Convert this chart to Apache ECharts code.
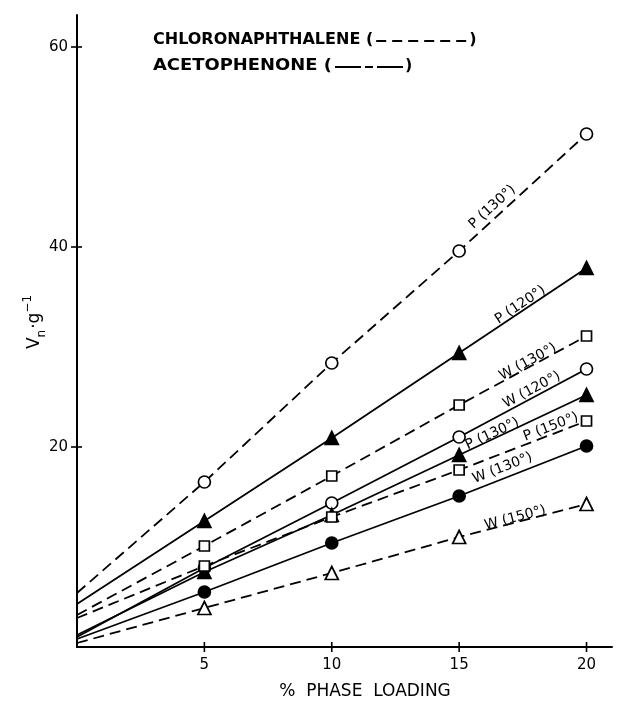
<!DOCTYPE html>
<html><head><meta charset="utf-8">
<script src="https://cdn.jsdelivr.net/npm/echarts@6/dist/echarts.min.js"></script>
<style>html,body{margin:0;padding:0;background:#fff}#c{width:618px;height:706px}</style>
</head><body><div id="c"></div>
<script>
// Data
const loading = [0, 5, 10, 15, 20];
const xTicks = [5, 10, 15, 20];
const yTicks = [20, 40, 60];

const p130Chloro = [5.4, 16.5, 28.4, 39.6, 51.3];
const p120Aceto  = [4.3, 12.6, 20.9, 29.4, 37.9];
const w130Chloro = [3.2, 10.1, 17.1, 24.2, 31.1];
const w120Aceto  = [1.0, 7.9, 14.4, 21.0, 27.8];
const p130Aceto  = [1.2, 7.5, 13.2, 19.2, 25.2];
const p150Chloro = [2.9, 8.1, 13.0, 17.7, 22.6];
const w130Aceto  = [0.8, 5.5, 10.4, 15.1, 20.1];
const w150Chloro = [0.4, 3.9, 7.4, 11.0, 14.3];

const seriesDefs = [
  {name:'P (130°) chloronaphthalene', values:p130Chloro, dashed:true,  symbol:'circle',   filled:false},
  {name:'P (120°) acetophenone',      values:p120Aceto,  dashed:false, symbol:'triangle', filled:true},
  {name:'W (130°) chloronaphthalene', values:w130Chloro, dashed:true,  symbol:'rect',     filled:false},
  {name:'W (120°) acetophenone',      values:w120Aceto,  dashed:false, symbol:'circle',   filled:false},
  {name:'P (130°) acetophenone',      values:p130Aceto,  dashed:false, symbol:'triangle', filled:true},
  {name:'P (150°) chloronaphthalene', values:p150Chloro, dashed:true,  symbol:'rect',     filled:false},
  {name:'W (130°) acetophenone',      values:w130Aceto,  dashed:false, symbol:'circle',   filled:true},
  {name:'W (150°) chloronaphthalene', values:w150Chloro, dashed:true,  symbol:'triangle', filled:false}
];

// line annotations: text, series index, position in data coordinates
const lineLabels = [
  {text:'P (130°)', s:0, x:16.3, y:44.0},
  {text:'P (120°)', s:1, x:17.4, y:34.2},
  {text:'W (130°)', s:2, x:17.7, y:28.5},
  {text:'W (120°)', s:3, x:17.85, y:25.7},
  {text:'P (130°)', s:4, x:16.3, y:21.3},
  {text:'P (150°)', s:5, x:18.6, y:22.0},
  {text:'W (130°)', s:6, x:16.7, y:17.9},
  {text:'W (150°)', s:7, x:17.2, y:12.9}
];

const FONT = '"DejaVu Sans", sans-serif';
const chart = echarts.init(document.getElementById('c'), null, {renderer:'canvas'});

const series = seriesDefs.map(d => ({
  name: d.name,
  type: 'line',
  data: loading.map((x, i) => i === 0 ? {value:[x, d.values[i]], symbol:'none'} : [x, d.values[i]]),
  symbol: d.symbol,
  symbolSize: d.symbol === 'rect' ? 10 : (d.symbol === 'triangle' ? 13 : 12),
  showSymbol: true,
  lineStyle: {color:'#000', width:1.8, type: d.dashed ? [11, 6] : 'solid'},
  itemStyle: {color: d.filled ? '#000' : '#fff', borderColor:'#000', borderWidth:1.7},
  emphasis: {disabled:true},
  z: 3,
  animation: false
}));

chart.setOption({
  animation: false,
  backgroundColor: '#fff',
  grid: {left:77, right:6, top:15, bottom:59, containLabel:false},
  xAxis: {
    type:'value', min:0, max:21, interval:5,
    axisLine:{show:true, onZero:false, lineStyle:{color:'#000', width:2}},
    axisTick:{show:false},
    axisLabel:{show:true, customValues:xTicks, margin:11, color:'#000', fontSize:15, fontFamily:FONT},
    splitLine:{show:false}
  },
  yAxis: {
    type:'value', min:0, max:63.2, interval:20,
    axisLine:{show:true, onZero:false, lineStyle:{color:'#000', width:2}},
    axisTick:{show:false},
    axisLabel:{show:true, customValues:yTicks, margin:9, color:'#000', fontSize:15, fontFamily:FONT},
    splitLine:{show:false}
  },
  series: series
});

function textWidth(str, font) {
  const ctx = document.createElement('canvas').getContext('2d');
  ctx.font = font;
  return ctx.measureText(str).width;
}

function addGraphics() {
  const g = [];
  const px = v => chart.convertToPixel({xAxisIndex:0, yAxisIndex:0}, v);
  // crossing tick marks
  xTicks.forEach(v => {
    const p = px([v, 0]);
    g.push({type:'line', shape:{x1:p[0], y1:p[1]-5, x2:p[0], y2:p[1]+5}, style:{stroke:'#000', lineWidth:1.6}, z:5});
  });
  yTicks.forEach(v => {
    const p = px([0, v]);
    g.push({type:'line', shape:{x1:p[0]-6, y1:p[1], x2:p[0]+5, y2:p[1]}, style:{stroke:'#000', lineWidth:1.6}, z:5});
  });
  // line annotations
  lineLabels.forEach(L => {
    const vals = seriesDefs[L.s].values;
    const a = px([loading[3], vals[3]]);
    const b = px([loading[4], vals[4]]);
    const ang = Math.atan2(a[1] - b[1], b[0] - a[0]);
    const p = px([L.x, L.y]);
    g.push({
      type:'text', x:p[0], y:p[1], rotation:ang, z:10,
      style:{text:L.text, fill:'#000', font:'14px ' + FONT, align:'center', verticalAlign:'middle'}
    });
  });
  // legend
  const LF = 'bold 16px ' + FONT;
  const t1 = 'CHLORONAPHTHALENE (';
  const t2 = 'ACETOPHENONE (';
  const s2 = 1.12;
  const w1 = textWidth(t1, LF), w2 = textWidth(t2, LF) * s2;
  const lx = 153, ly1 = 40, ly2 = 66;
  g.push({type:'text', x:lx, y:ly1, z:10, style:{text:t1, fill:'#000', font:LF, align:'left', verticalAlign:'middle'}});
  g.push({type:'line', z:10, shape:{x1:lx+w1+3, y1:ly1+1, x2:lx+w1+93, y2:ly1+1},
    style:{stroke:'#000', lineWidth:2, lineDash:[10,6]}});
  g.push({type:'text', x:lx+w1+96, y:ly1, z:10, style:{text:')', fill:'#000', font:LF, align:'left', verticalAlign:'middle'}});
  g.push({type:'text', x:lx, y:ly2, scaleX:s2, scaleY:1, z:10, style:{text:t2, fill:'#000', font:LF, align:'left', verticalAlign:'middle'}});
  g.push({type:'line', z:10, shape:{x1:lx+w2+3, y1:ly2+1, x2:lx+w2+71, y2:ly2+1},
    style:{stroke:'#000', lineWidth:2, lineDash:[26,4,8,4]}});
  g.push({type:'text', x:lx+w2+73, y:ly2, z:10, style:{text:')', fill:'#000', font:LF, align:'left', verticalAlign:'middle'}});
  // axis titles
  g.push({type:'text', x:365, y:692, z:10,
    style:{text:'%  PHASE  LOADING', fill:'#000', font:'17px ' + FONT, align:'center', verticalAlign:'middle'}});
  g.push({type:'text', x:35, y:322, rotation:Math.PI/2, z:10,
    style:{
      text:'{m|V}{s|n}{m|·g}{p|−1}', align:'center', verticalAlign:'middle', fill:'#000',
      rich:{
        m:{fontSize:17, fontFamily:FONT, fill:'#000', lineHeight:26, verticalAlign:'middle'},
        s:{fontSize:12, fontFamily:FONT, fill:'#000', lineHeight:26, verticalAlign:'bottom', padding:[0,1,0,0]},
        p:{fontSize:12, fontFamily:FONT, fill:'#000', lineHeight:26, verticalAlign:'top'}
      }
    }});
  chart.setOption({graphic: g});
}
addGraphics();
</script>
</body></html>
